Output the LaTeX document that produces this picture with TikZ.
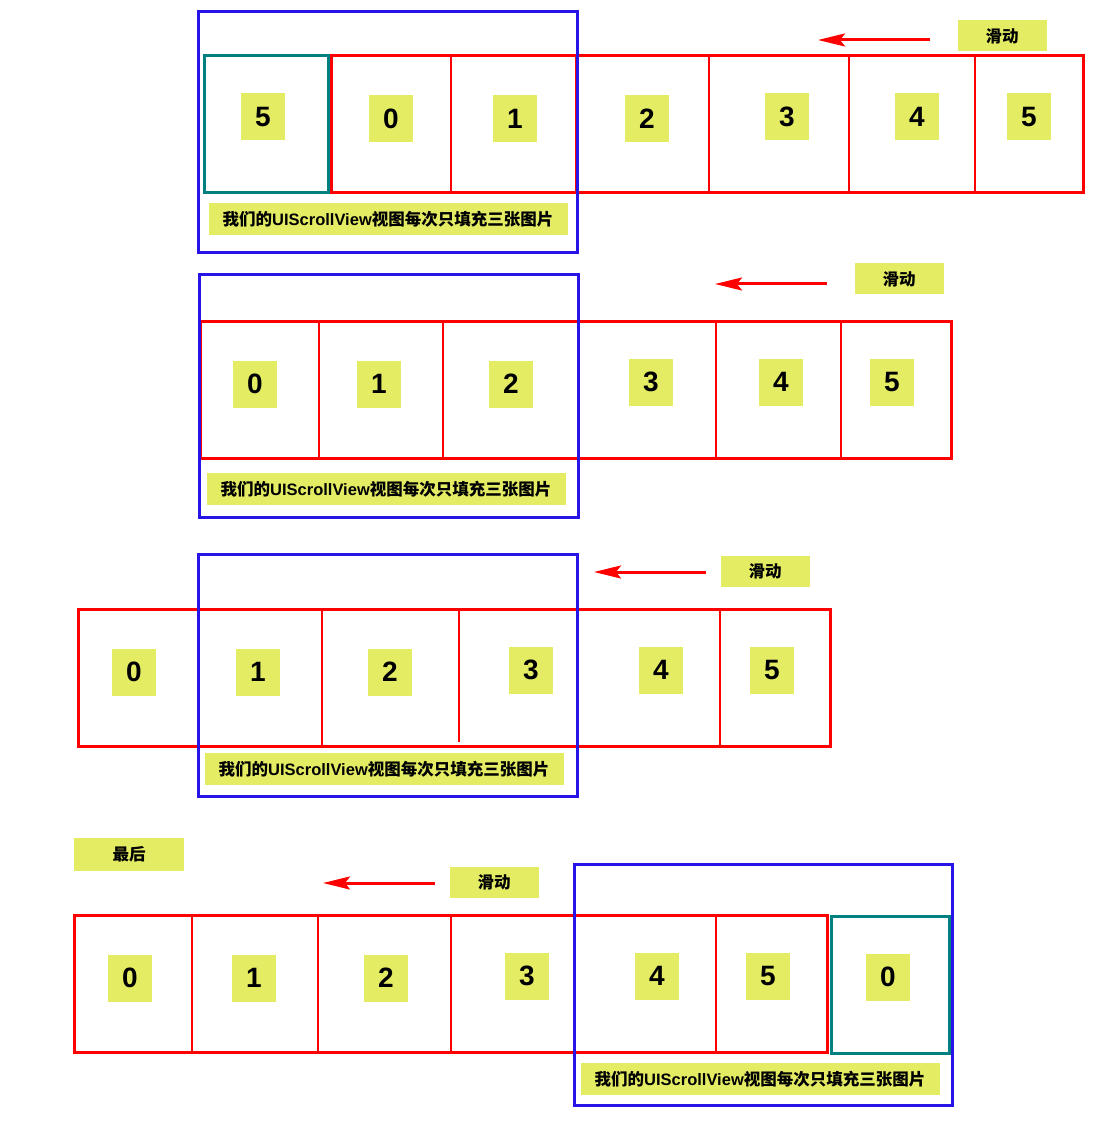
\documentclass[tikz,border=0pt]{standalone}
\usepackage{fontspec}
\setmainfont{Liberation Sans}
\newfontfamily\cjk{Noto Sans CJK SC}
\usetikzlibrary{arrows.meta}
\definecolor{frameblue}{RGB}{40,20,230}
\definecolor{tealbox}{RGB}{0,128,128}
\definecolor{tagyellow}{RGB}{228,236,100}
\newcommand{\fillthree}{{\cjk 我们的}UIScrollView{\cjk 视图每次只填充三张图片}}
\begin{document}
\begin{tikzpicture}[x=1pt, y=-1pt,
  view/.style={draw=frameblue, line width=3pt},
  strip/.style={draw=red, line width=3pt},
  cut/.style={draw=red, line width=2pt},
  spare/.style={draw=tealbox, line width=3pt},
  num/.style={fill=tagyellow, minimum width=44pt, minimum height=47pt, inner sep=0pt,
    font=\fontsize{28}{30}\selectfont\bfseries},
  caption/.style={fill=tagyellow, minimum width=359pt, minimum height=32pt, inner sep=0pt,
    font=\fontsize{16.5}{18}\selectfont\bfseries},
  tag/.style={fill=tagyellow, minimum width=89pt, minimum height=31pt, inner sep=0pt,
    font=\cjk\fontsize{16.5}{18}\selectfont\bfseries},
  slide/.style={red, line width=3pt, -{Stealth[length=27pt,width=13pt,inset=5pt]}}
]
\useasboundingbox (0,0) rectangle (1099,1131);

% first row
\draw[spare] (204,56) rectangle (328,193);
\draw[strip] (331,56) rectangle (1083,193);
\foreach \x in {451,576,709,849,975}
  \draw[cut] (\x,56) -- (\x,193);
\draw[view] (198,12) rectangle (577,253);
\node[num] (a5) at (263,117) {5};
\node[num] (a0) at (391,119) {0};
\node[num] (a1) at (515,119) {1};
\node[num] (a2) at (647,119) {2};
\node[num] (a3) at (787,117) {3};
\node[num] (a4) at (917,117) {4};
\node[num] (a6) at (1029,117) {5};
\node[caption] (acap) at (388,219) {\fillthree};
\node[tag] (aslide) at (1002,36) {滑动};
\coordinate (afrom) at (930,40);
\coordinate (ato) at (818,40);
\draw[slide] (afrom) -- (ato);

% second row
\draw[strip] (200,321) rectangle (951,458);
\foreach \x in {319,443,578,716,841}
  \draw[cut] (\x,321) -- (\x,458);
\draw[view] (199,275) rectangle (578,517);
\node[num] (b0) at (255,384) {0};
\node[num] (b1) at (379,384) {1};
\node[num] (b2) at (511,384) {2};
\node[num] (b3) at (651,382) {3};
\node[num] (b4) at (781,382) {4};
\node[num] (b5) at (892,382) {5};
\node[caption] (bcap) at (386,489) {\fillthree};
\node[tag] (bslide) at (899,279) {滑动};
\coordinate (bfrom) at (827,284);
\coordinate (bto) at (715,284);
\draw[slide] (bfrom) -- (bto);

% third row
\draw[strip] (78,609) rectangle (830,746);
\foreach \x in {322,577,720}
  \draw[cut] (\x,609) -- (\x,746);
\draw[cut] (459,609) -- (459,742);
\draw[view] (198,554) rectangle (577,796);
\node[num] (c0) at (134,672) {0};
\node[num] (c1) at (258,672) {1};
\node[num] (c2) at (390,672) {2};
\node[num] (c3) at (531,670) {3};
\node[num] (c4) at (661,670) {4};
\node[num] (c5) at (772,670) {5};
\node[caption] (ccap) at (384,769) {\fillthree};
\node[tag] (cslide) at (765,571) {滑动};
\coordinate (cfrom) at (706,572);
\coordinate (cto) at (594,572);
\draw[slide] (cfrom) -- (cto);

% last row
\node[tag, minimum width=110pt, minimum height=33pt] (dlast) at (129,854) {最后};
\draw[strip] (74,915) rectangle (827,1052);
\foreach \x in {192,318,451,716}
  \draw[cut] (\x,915) -- (\x,1052);
\draw[spare] (831,916) rectangle (949,1053);
\draw[view] (574,864) rectangle (952,1105);
\node[num] (d0) at (130,978) {0};
\node[num] (d1) at (254,978) {1};
\node[num] (d2) at (386,978) {2};
\node[num] (d3) at (527,976) {3};
\node[num] (d4) at (657,976) {4};
\node[num] (d5) at (768,976) {5};
\node[num] (d6) at (888,977) {0};
\node[caption] (dcap) at (760,1079) {\fillthree};
\node[tag] (dslide) at (494,882) {滑动};
\coordinate (dfrom) at (435,883);
\coordinate (dto) at (323,883);
\draw[slide] (dfrom) -- (dto);
\end{tikzpicture}
\end{document}
